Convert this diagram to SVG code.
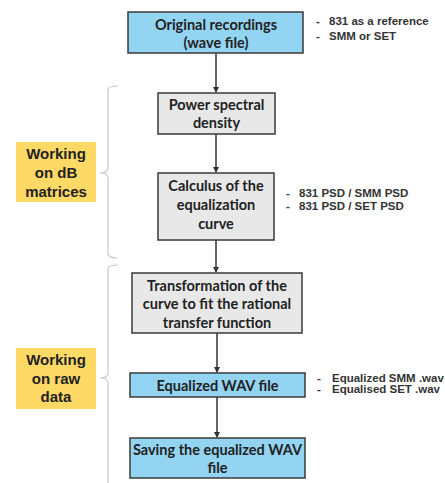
<svg xmlns="http://www.w3.org/2000/svg" width="445" height="483" viewBox="0 0 445 483">
<defs>
<style>
.blue{fill:#93D4F2;stroke:#3a3a3a;stroke-width:1.5}
.gray{fill:#E8E8E8;stroke:#3a3a3a;stroke-width:1.5}
.yel{fill:#FFD966;stroke:none}
.bt{font-family:Lato,"Liberation Sans",sans-serif;font-weight:bold;font-size:14.5px;fill:#222;text-anchor:middle}
.yt{font-family:"Liberation Sans",Arial,sans-serif;font-weight:bold;font-size:15px;fill:#222;text-anchor:middle}
.st{font-family:"Liberation Sans",Arial,sans-serif;font-weight:bold;font-size:11.5px;fill:#333}
.conn{stroke:#333;stroke-width:1.5;fill:none}
.br{stroke:#c8c8c8;stroke-width:1.2;fill:none}
</style>
<marker id="ah" markerWidth="6" markerHeight="6" refX="5" refY="3" orient="auto" markerUnits="userSpaceOnUse">
<path d="M0,0 L6,3 L0,6 z" fill="#333"/>
</marker>
</defs>
<rect width="445" height="483" fill="#fff"/>
<g id="connectors">
<line class="conn" x1="216" y1="53" x2="216" y2="92" marker-end="url(#ah)"/>
<line class="conn" x1="216" y1="134" x2="216" y2="172" marker-end="url(#ah)"/>
<line class="conn" x1="216" y1="240" x2="216" y2="272" marker-end="url(#ah)"/>
<line class="conn" x1="217" y1="333" x2="217" y2="372" marker-end="url(#ah)"/>
<line class="conn" x1="217" y1="397" x2="217" y2="437" marker-end="url(#ah)"/>
</g>
<g id="brackets">
<path class="br" d="M118,86 Q108,86 108,90 L108,168 Q108,173 100,173 Q108,173 108,178 L108,253 Q108,258 117,258"/>
<path class="br" d="M118,265 Q108,265 108,269 L108,373 Q108,378 100,378 Q108,378 108,383 L108,483"/>
</g>
<g id="n1">
<rect class="blue" x="128" y="12" width="175" height="41"/>
<text class="bt" x="216" y="30">Original recordings</text>
<text class="bt" x="216" y="48">(wave file)</text>
</g>
<g id="n1note">
<text class="st" x="316" y="25">-</text><text class="st" x="329" y="25">831 as a reference</text>
<text class="st" x="316" y="40">-</text><text class="st" x="329" y="40">SMM or SET</text>
</g>
<g id="n2">
<rect class="gray" x="158" y="93" width="117" height="41"/>
<text class="bt" x="216.5" y="110">Power spectral</text>
<text class="bt" x="216.5" y="128">density</text>
</g>
<g id="n3">
<rect class="gray" x="158" y="173" width="116" height="67"/>
<text class="bt" x="216" y="191">Calculus of the</text>
<text class="bt" x="216" y="210">equalization</text>
<text class="bt" x="216" y="229">curve</text>
</g>
<g id="n3note">
<text class="st" x="286" y="197">-</text><text class="st" x="299" y="197">831 PSD / SMM PSD</text>
<text class="st" x="286" y="210">-</text><text class="st" x="299" y="210">831 PSD / SET PSD</text>
</g>
<g id="n4">
<rect class="gray" x="132" y="273" width="170" height="60"/>
<text class="bt" x="217" y="291">Transformation of the</text>
<text class="bt" x="217" y="309">curve to fit the rational</text>
<text class="bt" x="217" y="328">transfer function</text>
</g>
<g id="n5">
<rect class="blue" x="130" y="373" width="175" height="24"/>
<text class="bt" x="217.5" y="391">Equalized WAV file</text>
</g>
<g id="n5note">
<text class="st" x="317" y="382">-</text><text class="st" x="332" y="382">Equalized SMM .wav</text>
<text class="st" x="317" y="393">-</text><text class="st" x="332" y="393">Equalised SET .wav</text>
</g>
<g id="n6">
<rect class="blue" x="130" y="438" width="175" height="40"/>
<text class="bt" x="217.5" y="455">Saving the equalized WAV</text>
<text class="bt" x="217.5" y="473">file</text>
</g>
<g id="g1">
<rect class="yel" x="16" y="142" width="80" height="60"/>
<text class="yt" x="56" y="159">Working</text>
<text class="yt" x="56" y="178">on dB</text>
<text class="yt" x="56" y="197">matrices</text>
</g>
<g id="g2">
<rect class="yel" x="16" y="348" width="80" height="61"/>
<text class="yt" x="56" y="365">Working</text>
<text class="yt" x="56" y="384">on raw</text>
<text class="yt" x="56" y="402">data</text>
</g>
</svg>
